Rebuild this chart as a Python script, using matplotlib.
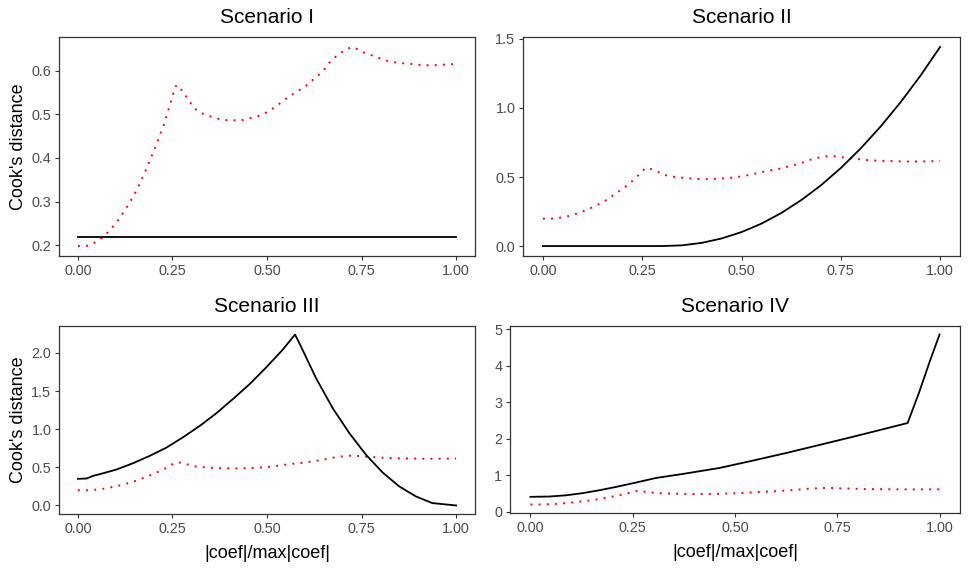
import matplotlib
matplotlib.use("Agg")
import matplotlib.pyplot as plt

plt.rcParams['font.family'] = ['Liberation Sans', 'DejaVu Sans']

# red dotted curve, shared by all four scenarios
ref_x = [0.0, 0.022, 0.04, 0.055, 0.069, 0.083, 0.096, 0.107, 0.118, 0.127,
         0.138, 0.147, 0.156, 0.163, 0.170, 0.178, 0.186, 0.193, 0.200, 0.207,
         0.214, 0.220, 0.226, 0.232, 0.237, 0.243, 0.248, 0.253, 0.258, 0.262,
         0.270, 0.279, 0.291, 0.301, 0.314, 0.328, 0.346, 0.365, 0.382, 0.402,
         0.419, 0.438, 0.456, 0.475, 0.492, 0.507, 0.522, 0.536, 0.551, 0.567,
         0.583, 0.598, 0.612, 0.627, 0.641, 0.654, 0.665, 0.678, 0.692, 0.707,
         0.724, 0.739, 0.757, 0.774, 0.792, 0.810, 0.829, 0.847, 0.866, 0.885,
         0.904, 0.923, 0.940, 0.959, 0.977, 1.0]
ref_y = [0.198, 0.198, 0.204, 0.211, 0.220, 0.233, 0.246, 0.258, 0.272, 0.284,
         0.299, 0.313, 0.327, 0.340, 0.354, 0.369, 0.385, 0.400, 0.415, 0.429,
         0.445, 0.460, 0.473, 0.489, 0.504, 0.520, 0.535, 0.550, 0.563, 0.567,
         0.561, 0.548, 0.536, 0.521, 0.509, 0.502, 0.496, 0.491, 0.487, 0.486,
         0.486, 0.487, 0.491, 0.495, 0.501, 0.508, 0.517, 0.526, 0.536, 0.545,
         0.554, 0.561, 0.572, 0.583, 0.593, 0.605, 0.618, 0.629, 0.639, 0.647,
         0.654, 0.649, 0.641, 0.636, 0.630, 0.624, 0.620, 0.618, 0.616, 0.615,
         0.613, 0.612, 0.612, 0.613, 0.614, 0.615]

# black curves
s1_x = [0.0, 1.0]
s1_y = [0.219, 0.219]

s2_x = [0.0, 0.30, 0.35, 0.40, 0.45, 0.50, 0.55, 0.60, 0.65, 0.70,
        0.75, 0.80, 0.85, 0.90, 0.95, 1.0]
s2_y = [0.0, 0.0, 0.005, 0.023, 0.055, 0.101, 0.162, 0.239, 0.332, 0.440,
        0.565, 0.707, 0.865, 1.040, 1.232, 1.442]

s3_x = [0.0, 0.023, 0.04, 0.058, 0.102, 0.146, 0.19, 0.234, 0.278, 0.322,
        0.366, 0.41, 0.454, 0.498, 0.542, 0.574, 0.586, 0.63, 0.674, 0.718,
        0.762, 0.806, 0.85, 0.894, 0.937, 1.0]
s3_y = [0.349, 0.353, 0.388, 0.41, 0.471, 0.554, 0.65, 0.758, 0.894, 1.042,
        1.208, 1.395, 1.59, 1.81, 2.044, 2.24, 2.123, 1.665, 1.273, 0.946,
        0.663, 0.431, 0.248, 0.118, 0.031, 0.0]

s4_x = [0.0, 0.046, 0.087, 0.128, 0.169, 0.209, 0.25, 0.307, 0.372, 0.413,
        0.462, 0.543, 0.625, 0.706, 0.79, 0.87, 0.922, 0.95, 0.975, 1.0]
s4_y = [0.408, 0.417, 0.45, 0.51, 0.59, 0.68, 0.78, 0.926, 1.035, 1.11,
        1.20, 1.40, 1.61, 1.83, 2.06, 2.285, 2.433, 3.27, 4.087, 4.86]

titles = ["Scenario I", "Scenario II", "Scenario III", "Scenario IV"]
black_x = [s1_x, s2_x, s3_x, s4_x]
black_y = [s1_y, s2_y, s3_y, s4_y]
yticks = [[0.2, 0.3, 0.4, 0.5, 0.6],
          [0.0, 0.5, 1.0, 1.5],
          [0.0, 0.5, 1.0, 1.5, 2.0],
          [0, 1, 2, 3, 4, 5]]
ytick_labels = [["0.2", "0.3", "0.4", "0.5", "0.6"],
                ["0.0", "0.5", "1.0", "1.5"],
                ["0.0", "0.5", "1.0", "1.5", "2.0"],
                ["0", "1", "2", "3", "4", "5"]]
xticks = [0.0, 0.25, 0.5, 0.75, 1.0]
xtick_labels = ["0.00", "0.25", "0.50", "0.75", "1.00"]

W, H = 969, 577
# panel boxes in pixels: left, top, right, bottom
boxes = [(59, 37, 475, 256), (523, 37, 960, 256),
         (59, 326, 475, 514), (510, 326, 960, 513)]

fig = plt.figure(figsize=(W / 100, H / 100), dpi=100)

for i in range(4):
    l, t, r, b = boxes[i]
    ax = fig.add_axes([l / W, (H - b) / H, (r - l) / W, (b - t) / H])
    ax.plot(ref_x, ref_y, color='#FF0000', lw=1.4, linestyle=(0, (1, 3.2)))
    ax.plot(black_x[i], black_y[i], color='black', lw=1.3)
    ax.margins(x=0.05, y=0.05)
    ax.set_xticks(xticks)
    ax.set_xticklabels(xtick_labels)
    ax.set_yticks(yticks[i])
    ax.set_yticklabels(ytick_labels[i])
    ax.tick_params(length=3, width=0.8, color='#333333', labelcolor='#4D4D4D',
                   labelsize=10.4, pad=2.5)
    for sp in ax.spines.values():
        sp.set_color('#333333')
        sp.set_linewidth(0.9)
    ax.set_title(titles[i], fontsize=15, pad=10)
    if i in (0, 2):
        ax.set_ylabel("Cook's distance", fontsize=13)
        ax.yaxis.set_label_coords(-0.078, 0.5)
    if i in (2, 3):
        ax.set_xlabel("|coef|/max|coef|", fontsize=13)
        ax.xaxis.set_label_coords(0.5, -0.165)

fig.savefig("out.png", dpi=100)
